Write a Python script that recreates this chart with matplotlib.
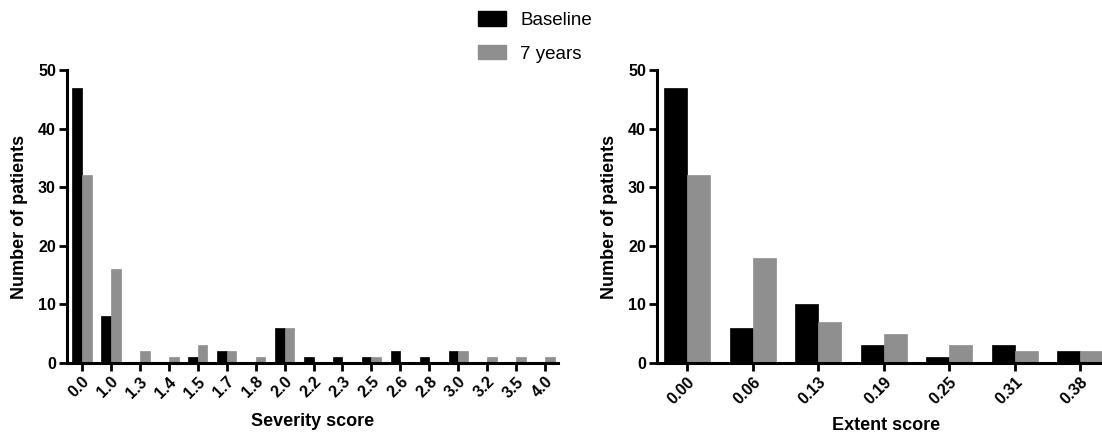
import matplotlib.pyplot as plt
import numpy as np
from matplotlib.patches import Patch

plt.rcParams['font.family'] = ['Liberation Sans', 'DejaVu Sans']

# severity score distribution
severity_labels = ['0.0', '1.0', '1.3', '1.4', '1.5', '1.7', '1.8', '2.0', '2.2',
                   '2.3', '2.5', '2.6', '2.8', '3.0', '3.2', '3.5', '4.0']
severity_baseline = [47, 8, 0, 0, 1, 2, 0, 6, 1, 1, 1, 2, 1, 2, 0, 0, 0]
severity_7years = [32, 16, 2, 1, 3, 2, 1, 6, 0, 0, 1, 0, 0, 2, 1, 1, 1]

# extent score distribution
extent_labels = ['0.00', '0.06', '0.13', '0.19', '0.25', '0.31', '0.38']
extent_baseline = [47, 6, 10, 3, 1, 3, 2]
extent_7years = [32, 18, 7, 5, 3, 2, 2]

BLACK = '#000000'
GREY = '#8f8f8f'

fig = plt.figure(figsize=(11.02, 4.36), dpi=100)
W, H = 1102, 436


def px_axes(x0, x1, y_top, y_bot):
    return fig.add_axes([x0 / W, 1 - y_bot / H, (x1 - x0) / W, (y_bot - y_top) / H])


def draw(ax, labels, base, later, xlabel, bw, xlim, xlabel_pad):
    x = np.arange(len(labels))
    ax.bar(x - bw / 2, base, width=bw, color=BLACK, edgecolor=BLACK, linewidth=0.5)
    ax.bar(x + bw / 2, later, width=bw, color=GREY, edgecolor=GREY, linewidth=0.5)
    ax.set_xlim(*xlim)
    ax.set_ylim(0, 50)
    ax.set_yticks([0, 10, 20, 30, 40, 50])
    ax.set_xticks(x)
    ax.set_xticklabels(labels, rotation=45, ha='right', rotation_mode='anchor',
                       fontweight='bold', fontsize=11.5)
    for lab in ax.get_yticklabels():
        lab.set_fontweight('bold')
        lab.set_fontsize(11.5)
    for s in ['top', 'right']:
        ax.spines[s].set_visible(False)
    for s in ['left', 'bottom']:
        ax.spines[s].set_linewidth(2.2)
    ax.tick_params(axis='both', direction='out', length=6, width=2, pad=2)
    ax.set_ylabel('Number of patients', fontweight='bold', fontsize=13, labelpad=7)
    ax.set_xlabel(xlabel, fontweight='bold', fontsize=13, labelpad=xlabel_pad)


ax1 = px_axes(67, 558, 70, 363)
draw(ax1, severity_labels, severity_baseline, severity_7years, 'Severity score',
     0.34, (-0.51, 16.44), 9)

ax2 = px_axes(657, 1115, 70, 363)
draw(ax2, extent_labels, extent_baseline, extent_7years, 'Extent score',
     0.35, (-0.46, 6.53), 7)

handles = [Patch(facecolor=BLACK, edgecolor=BLACK), Patch(facecolor=GREY, edgecolor=GREY)]
fig.legend(handles, ['Baseline', '7 years'], loc='upper left',
           bbox_to_anchor=(467 / W, 1 - 0 / H), frameon=False, fontsize=13.5,
           handlelength=1.5, handleheight=0.8, handletextpad=0.75,
           labelspacing=0.85, borderpad=0.1)

fig.savefig('out.png', dpi=100)
